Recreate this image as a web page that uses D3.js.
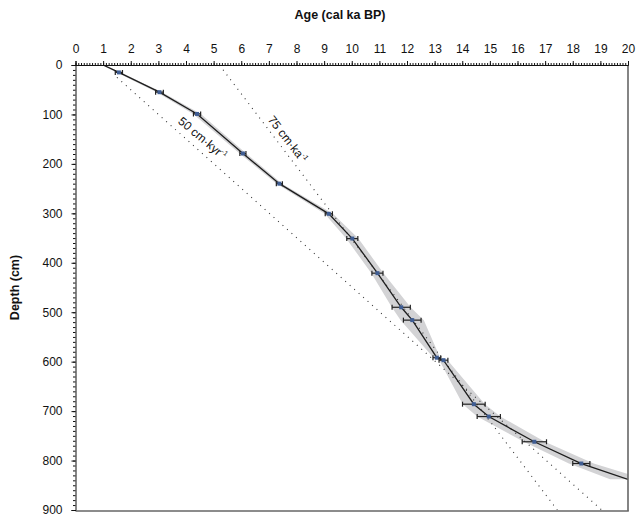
<!DOCTYPE html>
<html><head><meta charset="utf-8">
<script src="https://cdn.jsdelivr.net/npm/d3@7"></script>
<style>body{margin:0;background:#fff}svg{font-family:"Liberation Sans",Arial,sans-serif}</style>
</head><body><svg id="c" width="636" height="519"></svg>
<script>
// Dated samples (age in cal ka BP, depth in cm, 2-sigma half-width in ka)
const sampleAges   = [1.57, 3.04, 4.40, 6.06, 7.38, 9.17, 10.02, 10.93, 11.79, 12.19, 13.08, 13.32, 14.42, 14.96, 16.61, 18.31];
const sampleDepths = [15, 55, 99, 179, 240, 301, 351, 421, 490, 516, 592, 597, 686, 711, 762, 806];
const sampleErrors = [0.13, 0.14, 0.13, 0.11, 0.11, 0.13, 0.2, 0.2, 0.33, 0.32, 0.14, 0.16, 0.41, 0.42, 0.44, 0.31];
// Age-depth model and its uncertainty envelope (half-width in ka)
const modelAges   = [1.0, 1.57, 3.04, 4.40, 6.06, 7.38, 9.17, 10.02, 10.93, 11.79, 12.19, 13.08, 13.32, 14.42, 14.96, 16.61, 18.31, 20.0];
const modelDepths = [0, 15, 55, 99, 179, 240, 301, 351, 421, 490, 516, 592, 597, 686, 711, 762, 806, 838];
const modelHalf   = [0.04, 0.08, 0.1, 0.14, 0.12, 0.1, 0.15, 0.22, 0.22, 0.34, 0.42, 0.12, 0.15, 0.4, 0.42, 0.38, 0.45, 0.65];
// Reference sedimentation-rate lines
const rate50Ages = [1.5, 19.05], rate50Depths = [25, 900];
const rate75Ages = [5.21, 17.44], rate75Depths = [0, 900];
const xTicks = d3.range(0, 21, 1);
const yTicks = d3.range(0, 901, 100);

const svg = d3.select("#c");
const L = 75.5, R = 628, T = 65, B = 510;
const x = d3.scaleLinear().domain([0, 20]).range([L, R]);
const y = d3.scaleLinear().domain([0, 900]).range([T, B]);

svg.append("defs").append("clipPath").attr("id", "clip")
  .append("rect").attr("x", L).attr("y", T).attr("width", R - L).attr("height", B - T);
const g = svg.append("g").attr("clip-path", "url(#clip)");

const model = modelAges.map((a, i) => ({a, d: modelDepths[i], h: modelHalf[i]}));
g.append("path").datum(model)
  .attr("d", d3.area().y(d => y(d.d)).x0(d => x(d.a - d.h)).x1(d => x(d.a + d.h)))
  .attr("fill", "#d3d3d5");

function refLine(ages, depths) {
  g.append("path").datum(ages.map((a, i) => [a, depths[i]]))
    .attr("d", d3.line().x(d => x(d[0])).y(d => y(d[1])))
    .attr("fill", "none").attr("stroke", "#333").attr("stroke-width", 1.1)
    .attr("stroke-dasharray", "1,5");
}
refLine(rate50Ages, rate50Depths);
refLine(rate75Ages, rate75Depths);

g.append("path").datum(model)
  .attr("d", d3.line().x(d => x(d.a)).y(d => y(d.d)))
  .attr("fill", "none").attr("stroke", "#1e1e1e").attr("stroke-width", 1.3);

const samples = sampleAges.map((a, i) => ({a, d: sampleDepths[i], e: sampleErrors[i]}));
const eb = g.selectAll(".eb").data(samples).enter().append("g");
eb.append("line").attr("x1", d => x(d.a - d.e)).attr("x2", d => x(d.a + d.e))
  .attr("y1", d => y(d.d)).attr("y2", d => y(d.d)).attr("stroke", "#222").attr("stroke-width", 1.2);
[-1, 1].forEach(s => eb.append("line").attr("x1", d => x(d.a + s * d.e)).attr("x2", d => x(d.a + s * d.e))
  .attr("y1", d => y(d.d) - 2.5).attr("y2", d => y(d.d) + 2.5).attr("stroke", "#222").attr("stroke-width", 1.2));
eb.append("rect").attr("x", d => x(d.a) - 2).attr("y", d => y(d.d) - 2).attr("width", 4).attr("height", 4)
  .attr("fill", "#3f5d93");

// Labels on reference lines
svg.append("text").attr("transform", `translate(${x(4.6)},${y(148)}) rotate(40)`)
  .attr("text-anchor", "middle").attr("dy", "0.35em").attr("font-size", 12).attr("fill", "#111")
  .html('50 cm·kyr<tspan font-size="7" dy="-5">-1</tspan>');
svg.append("text").attr("transform", `translate(${x(7.68)},${y(150)}) rotate(52)`)
  .attr("text-anchor", "middle").attr("dy", "0.35em").attr("font-size", 12).attr("fill", "#111")
  .html('75 cm·ka<tspan font-size="7" dy="-5">-1</tspan>');

// Frame right & bottom
svg.append("line").attr("x1", R).attr("x2", R).attr("y1", T).attr("y2", B + 1).attr("stroke", "#666").attr("stroke-width", 1.6);
svg.append("line").attr("x1", L).attr("x2", R + 0.8).attr("y1", B + 1).attr("y2", B + 1).attr("stroke", "#666").attr("stroke-width", 1.6);

// Top axis
const xAx = svg.append("g").attr("transform", `translate(0,${T})`)
  .call(d3.axisTop(x).tickValues(xTicks).tickSize(4).tickPadding(8).tickFormat(d3.format("d")));
svg.append("g").attr("transform", `translate(0,${T})`)
  .call(d3.axisTop(x).tickValues(d3.range(0, 20.01, 0.1)).tickSize(2).tickFormat(""))
  .call(s => s.select(".domain").remove());
// Left axis
const yAx = svg.append("g").attr("transform", `translate(${L},0)`)
  .call(d3.axisLeft(y).tickValues(yTicks).tickSize(4).tickPadding(9).tickFormat(d3.format("d")));
svg.append("g").attr("transform", `translate(${L},0)`)
  .call(d3.axisLeft(y).tickValues(d3.range(0, 901, 10)).tickSize(2.5).tickFormat(""))
  .call(s => s.select(".domain").remove());
svg.selectAll(".tick text").attr("font-size", 12).attr("fill", "#111").attr("font-family", "Liberation Sans, Arial, sans-serif");
svg.selectAll(".domain").attr("stroke", "#111");
svg.selectAll(".tick line").attr("stroke", "#111");

svg.append("text").attr("x", 340).attr("y", 19).attr("text-anchor", "middle")
  .attr("font-size", 12.5).attr("font-weight", "bold").attr("fill", "#111").text("Age (cal ka BP)");
svg.append("text").attr("transform", `translate(19,${(T + B) / 2}) rotate(-90)`).attr("text-anchor", "middle")
  .attr("font-size", 12.5).attr("font-weight", "bold").attr("fill", "#111").text("Depth (cm)");
</script></body></html>
